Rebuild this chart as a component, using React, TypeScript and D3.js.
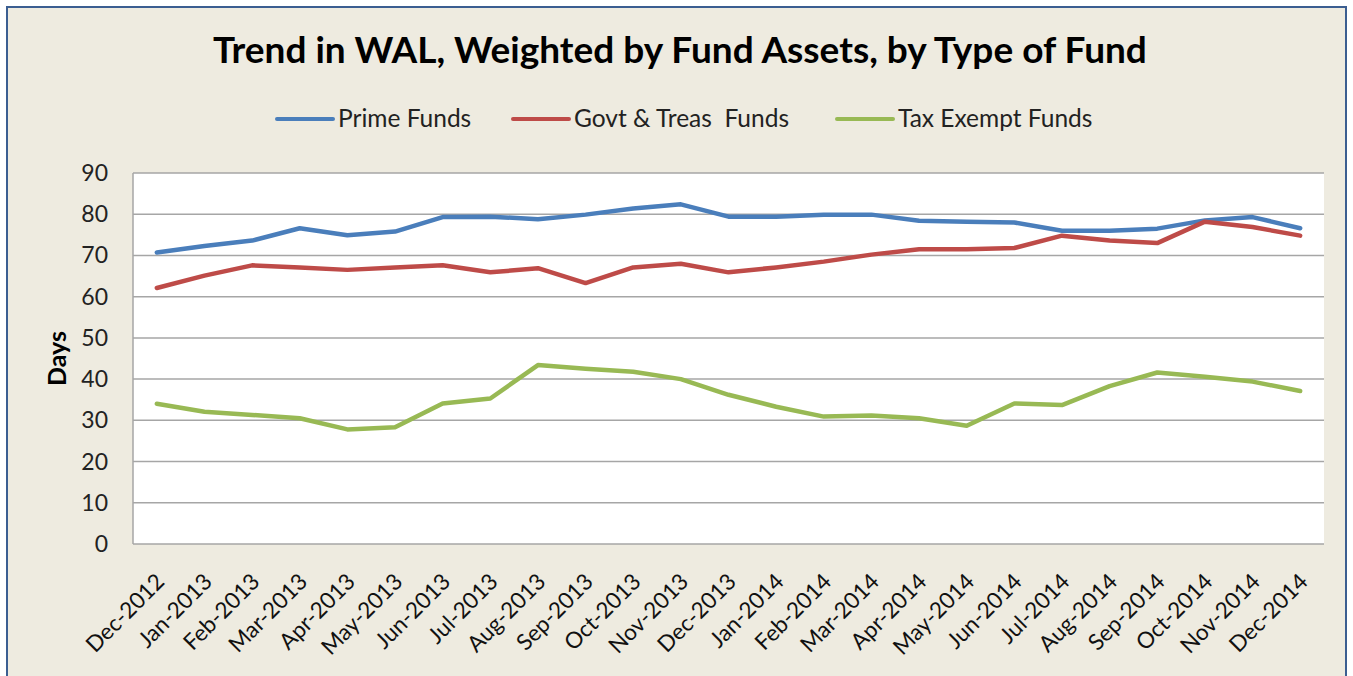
import React, { useEffect, useRef } from 'react';
import * as d3 from 'd3';

const months = [
  'Dec-2012', 'Jan-2013', 'Feb-2013', 'Mar-2013', 'Apr-2013', 'May-2013', 'Jun-2013',
  'Jul-2013', 'Aug-2013', 'Sep-2013', 'Oct-2013', 'Nov-2013', 'Dec-2013', 'Jan-2014',
  'Feb-2014', 'Mar-2014', 'Apr-2014', 'May-2014', 'Jun-2014', 'Jul-2014', 'Aug-2014',
  'Sep-2014', 'Oct-2014', 'Nov-2014', 'Dec-2014',
];

const primeFunds = [
  70.7, 72.3, 73.6, 76.6, 74.9, 75.8, 79.3, 79.4, 78.8, 79.9, 81.4, 82.4, 79.4,
  79.4, 79.9, 79.9, 78.4, 78.2, 78.0, 76.0, 76.0, 76.5, 78.5, 79.3, 76.6,
];

const govtTreasFunds = [
  62.1, 65.1, 67.6, 67.1, 66.5, 67.1, 67.6, 65.9, 66.9, 63.3, 67.1, 68.0, 65.9,
  67.1, 68.5, 70.2, 71.5, 71.5, 71.8, 74.8, 73.6, 73.0, 78.2, 76.9, 74.8,
];

const taxExemptFunds = [
  34.0, 32.1, 31.3, 30.5, 27.8, 28.3, 34.1, 35.3, 43.4, 42.5, 41.8, 40.0, 36.2,
  33.3, 30.9, 31.2, 30.5, 28.7, 34.1, 33.7, 38.3, 41.6, 40.6, 39.4, 37.1,
];

const yTicks = [0, 10, 20, 30, 40, 50, 60, 70, 80, 90];

const series = [
  { name: 'Prime Funds', values: primeFunds, color: '#4A7EBB' },
  { name: 'Govt & Treas  Funds', values: govtTreasFunds, color: '#BE4B48' },
  { name: 'Tax Exempt Funds', values: taxExemptFunds, color: '#98B954' },
];

const App = () => {
  const svgRef = useRef<SVGSVGElement>(null);

  useEffect(() => {
    const width = 1353;
    const height = 676;
    const font = 'Lato, "Open Sans", sans-serif';
    const plot = { left: 133, top: 173, right: 1324, bottom: 544 };

    const svg = d3.select(svgRef.current);
    svg.selectAll('*').remove();
    svg.attr('width', width).attr('height', height);

    // fond et cadre
    svg.append('rect').attr('width', width).attr('height', height).attr('fill', '#ffffff');
    svg.append('rect')
      .attr('x', 7).attr('y', 7)
      .attr('width', 1339).attr('height', 680)
      .attr('fill', '#EEEBE0')
      .attr('stroke', '#3B5E91')
      .attr('stroke-width', 2);

    // titre
    svg.append('text')
      .attr('x', 680).attr('y', 63)
      .attr('text-anchor', 'middle')
      .attr('font-family', font)
      .attr('font-weight', 'bold')
      .attr('font-size', 37)
      .attr('fill', '#000')
      .text('Trend in WAL, Weighted by Fund Assets, by Type of Fund');

    // légende
    const legendX = [277, 513, 837];
    series.forEach((s, i) => {
      const g = svg.append('g').attr('transform', `translate(${legendX[i]}, 119)`);
      g.append('line')
        .attr('x1', 0).attr('x2', 56)
        .attr('stroke', s.color).attr('stroke-width', 4).attr('stroke-linecap', 'round');
      g.append('text')
        .attr('x', 61).attr('y', 8)
        .attr('font-family', font)
        .attr('font-size', 24.5)
        .attr('fill', '#222')
        .style('white-space', 'pre')
        .text(s.name);
    });

    const xScale = d3.scalePoint<string>()
      .domain(months)
      .range([plot.left, plot.right])
      .padding(0.5);

    const yScale = d3.scaleLinear()
      .domain([0, 90])
      .range([plot.bottom, plot.top]);

    // zone du graphique
    svg.append('rect')
      .attr('x', plot.left).attr('y', plot.top)
      .attr('width', plot.right - plot.left).attr('height', plot.bottom - plot.top)
      .attr('fill', '#ffffff');

    svg.append('g')
      .selectAll('line')
      .data(yTicks)
      .join('line')
      .attr('x1', plot.left).attr('x2', plot.right)
      .attr('y1', d => yScale(d)).attr('y2', d => yScale(d))
      .attr('stroke', '#A6A6A6').attr('stroke-width', 1.5);

    svg.append('line')
      .attr('x1', plot.left).attr('x2', plot.left)
      .attr('y1', plot.top).attr('y2', plot.bottom)
      .attr('stroke', '#A6A6A6').attr('stroke-width', 1.5);

    // axe Y
    svg.append('g')
      .selectAll('text')
      .data(yTicks)
      .join('text')
      .attr('x', 108)
      .attr('y', d => yScale(d) + 8)
      .attr('text-anchor', 'end')
      .attr('font-family', font)
      .attr('font-size', 23)
      .attr('fill', '#222')
      .text(d => d);

    svg.append('text')
      .attr('transform', `translate(66, ${(plot.top + plot.bottom) / 2}) rotate(-90)`)
      .attr('text-anchor', 'middle')
      .attr('font-family', font)
      .attr('font-weight', 'bold')
      .attr('font-size', 25)
      .attr('fill', '#000')
      .text('Days');

    // axe X
    svg.append('g')
      .selectAll('text')
      .data(months)
      .join('text')
      .attr('transform', d => `translate(${(xScale(d) ?? 0) + 9}, 583) rotate(-45)`)
      .attr('text-anchor', 'end')
      .attr('font-family', font)
      .attr('font-size', 22.5)
      .attr('fill', '#111')
      .text(d => d);

    // lignes
    const line = d3.line<number>()
      .x((_, i) => xScale(months[i]) ?? 0)
      .y(v => yScale(v));

    series.forEach(s => {
      svg.append('path')
        .datum(s.values)
        .attr('fill', 'none')
        .attr('stroke', s.color)
        .attr('stroke-width', 4.5)
        .attr('stroke-linejoin', 'round')
        .attr('stroke-linecap', 'round')
        .attr('d', line);
    });
  }, []);

  return (
    <svg ref={svgRef} style={{ position: 'absolute', left: 0, top: 0 }}></svg>
  );
};

export default App;
